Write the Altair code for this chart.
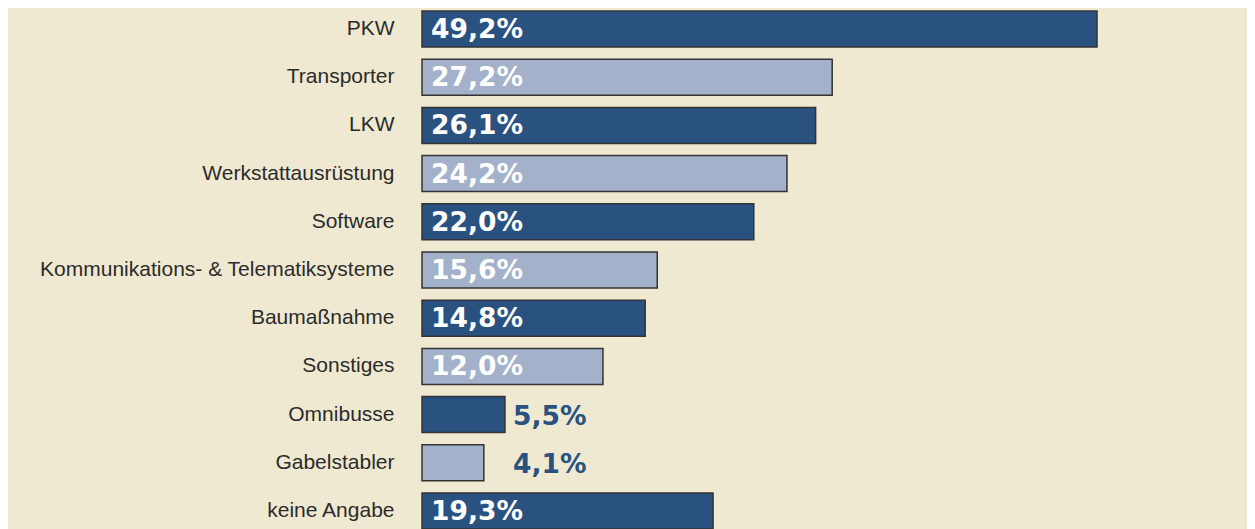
import altair as alt
import pandas as pd

categories = [
    "PKW", "Transporter", "LKW", "Werkstattausrüstung", "Software",
    "Kommunikations- & Telematiksysteme", "Baumaßnahme", "Sonstiges",
    "Omnibusse", "Gabelstabler", "keine Angabe",
]
values = [49.2, 27.2, 26.1, 24.2, 22.0, 15.6, 14.8, 12.0, 5.5, 4.1, 19.3]

df = pd.DataFrame({"cat": categories, "val": values})
df["shade"] = ["dark" if i % 2 == 0 else "light" for i in range(len(df))]
df["label"] = [f"{v:.1f}".replace(".", ",") + "%" for v in values]
df["inside"] = df["val"] >= 10

DARK = "#2a5280"
LIGHT = "#a3b1cb"
BG = "#efe9d2"

y_enc = alt.Y(
    "cat:N", sort=categories, title=None,
    scale=alt.Scale(paddingInner=0.253, paddingOuter=0),
    axis=alt.Axis(domain=False, ticks=False, grid=False, labelPadding=28,
                  labelFont="Liberation Sans", labelFontSize=21,
                  labelColor="#2b2b2b", labelLimit=600),
)
x_scale = alt.Scale(domain=[0, 44.76], clamp=True, nice=False, zero=True)

bars = alt.Chart(df).mark_bar(stroke="#333333", strokeWidth=1.5).encode(
    y=y_enc,
    x=alt.X("val:Q", scale=x_scale, axis=None),
    color=alt.Color("shade:N", scale=alt.Scale(domain=["dark", "light"], range=[DARK, LIGHT]), legend=None),
)

inside = alt.Chart(df).transform_filter("datum.inside").mark_text(
    align="left", baseline="middle", dx=9, dy=1, color="white",
    font="DejaVu Sans", fontWeight="bold", fontSize=26.5,
).encode(
    y=alt.Y("cat:N", sort=categories),
    x=alt.datum(0),
    text="label:N",
)

outside = alt.Chart(df).transform_filter("!datum.inside").mark_text(
    align="left", baseline="middle", dy=2, color=DARK,
    font="DejaVu Sans", fontWeight="bold", fontSize=26.5,
).encode(
    y=alt.Y("cat:N", sort=categories),
    x=alt.value(91),
    text="label:N",
)

chart = alt.layer(bars, inside, outside).properties(
    width=675, height=518,
    autosize=alt.AutoSizeParams(type="none"),
    padding={"left": 414, "top": 3, "right": 150, "bottom": 0},
).configure(background=BG).configure_view(stroke=None)

chart.save("out.html", embed_options={"renderer": "svg", "actions": False})
